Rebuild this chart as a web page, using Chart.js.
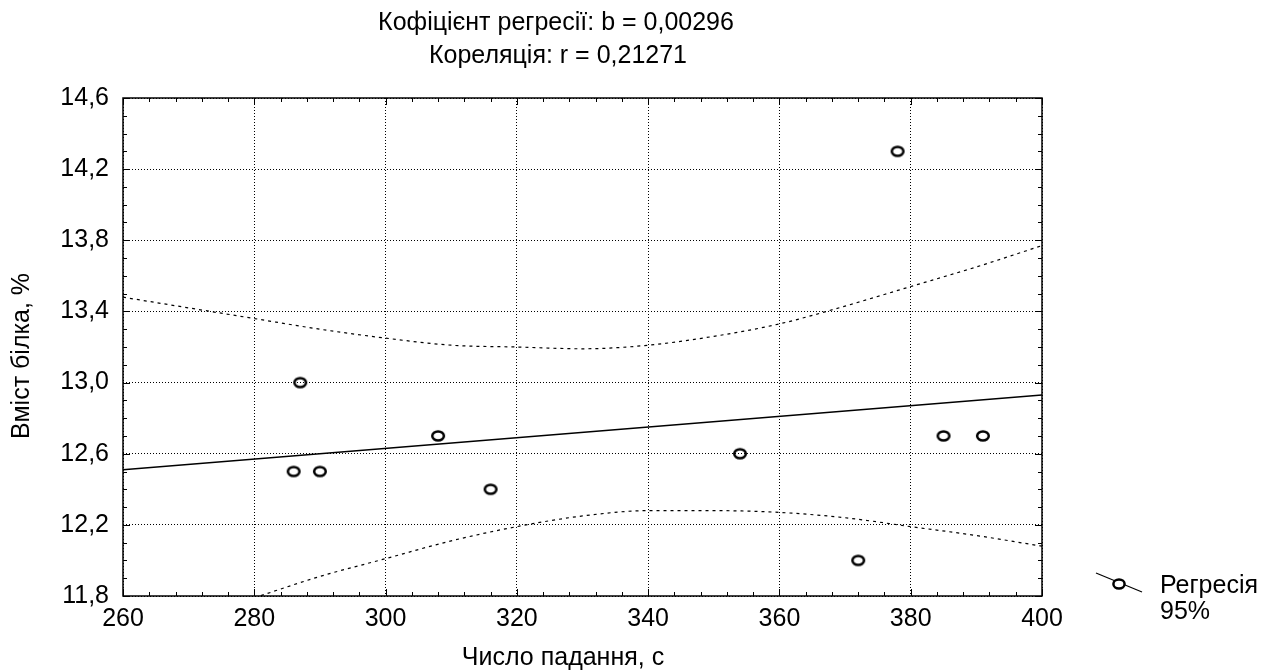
<!DOCTYPE html>
<html>
<head>
<meta charset="utf-8">
<script src="https://cdn.jsdelivr.net/npm/chart.js@4.4.1/dist/chart.umd.min.js"></script>
<style>
  html, body { margin: 0; padding: 0; background: #fff; }
  #wrap { width: 1265px; height: 670px; }
</style>
</head>
<body>
<div id="wrap"><canvas id="chart"></canvas></div>
<script>
const titleLines = ['Кофіцієнт регресії: b = 0,00296', 'Кореляція: r = 0,21271'];
const xAxisTitle = 'Число падання, с';
const yAxisTitle = 'Вміст білка, %';
const legendLines = ['Регресія', '95%'];

// observations
const fallingNumber = [286, 287, 290, 308, 316, 354, 372, 378, 385, 391];
const proteinContent = [12.5, 13.0, 12.5, 12.7, 12.4, 12.6, 12.0, 14.3, 12.7, 12.7];

// fitted line, read at both ends of the axis
const fitX = [260, 400];
const fitY = [12.51, 12.93];

// 95% band, every 10 units
const upperX = [260, 270, 280, 290, 300, 310, 320, 330, 340, 350, 360, 370, 380, 390, 400];
const upperY = [13.48, 13.42, 13.36, 13.30, 13.25, 13.21, 13.20, 13.19, 13.21, 13.26, 13.33, 13.43, 13.54, 13.65, 13.77];
const lowerX = [280, 290, 300, 310, 320, 330, 340, 350, 360, 370, 380, 390, 400];
const lowerY = [11.79, 11.91, 12.01, 12.11, 12.19, 12.25, 12.28, 12.28, 12.27, 12.24, 12.19, 12.14, 12.08];

const xTicks = { min: 260, max: 400, step: 20, minor: 4 };
const yTicks = { min: 11.8, max: 14.6, step: 0.4, minor: 0.1 };

const FONT = '"Liberation Sans", Arial, sans-serif';
const FONT_SIZE = 25;

function toPoints(xs, ys) {
    return xs.map((x, i) => ({ x: x, y: ys[i] }));
}

function makeRing() {
    const c = document.createElement('canvas');
    c.width = 18;
    c.height = 16;
    const g = c.getContext('2d');
    g.strokeStyle = '#000';
    g.lineWidth = 2.5;
    g.beginPath();
    g.ellipse(9, 8, 5.8, 4.6, 0, 0, Math.PI * 2);
    g.stroke();
    return c;
}

const ring = makeRing();

// frame, inward ticks on every side, texts and the legend
const decorPlugin = {
    id: 'decor',
    afterDatasetsDraw(chart) {
        const { ctx, chartArea: a, scales: { x, y } } = chart;
        ctx.save();
        ctx.strokeStyle = '#000';
        ctx.lineWidth = 1;
        ctx.beginPath();
        const nx = Math.round((xTicks.max - xTicks.min) / xTicks.minor);
        for (let k = 0; k <= nx; k++) {
            const px = Math.round(x.getPixelForValue(xTicks.min + k * xTicks.minor)) + 0.5;
            const len = (k * xTicks.minor) % xTicks.step === 0 ? 7 : 4;
            ctx.moveTo(px, a.bottom); ctx.lineTo(px, a.bottom - len);
            ctx.moveTo(px, a.top); ctx.lineTo(px, a.top + len);
        }
        const ny = Math.round((yTicks.max - yTicks.min) / yTicks.minor);
        for (let k = 0; k <= ny; k++) {
            const py = Math.round(y.getPixelForValue(yTicks.min + k * yTicks.minor)) + 0.5;
            const len = k % 4 === 0 ? 7 : 4;
            ctx.moveTo(a.left, py); ctx.lineTo(a.left + len, py);
            ctx.moveTo(a.right, py); ctx.lineTo(a.right - len, py);
        }
        ctx.stroke();
        ctx.lineWidth = 1.5;
        ctx.strokeRect(a.left, a.top, a.right - a.left, a.bottom - a.top);
        ctx.restore();
    },
    afterDraw(chart) {
        const { ctx } = chart;
        ctx.save();
        ctx.fillStyle = '#000';
        ctx.font = FONT_SIZE + 'px ' + FONT;
        ctx.textBaseline = 'middle';
        ctx.textAlign = 'center';
        ctx.fillText(titleLines[0], 556, 23);
        ctx.fillText(titleLines[1], 558, 56);
        ctx.fillText(xAxisTitle, 563, 658);
        ctx.save();
        ctx.translate(22, 356);
        ctx.rotate(-Math.PI / 2);
        ctx.fillText(yAxisTitle, 0, 0);
        ctx.restore();

        // legend
        ctx.strokeStyle = '#000';
        ctx.lineWidth = 1.2;
        ctx.beginPath();
        ctx.moveTo(1096, 573);
        ctx.lineTo(1142, 592);
        ctx.stroke();
        ctx.fillStyle = '#fff';
        ctx.lineWidth = 2.5;
        ctx.beginPath();
        ctx.ellipse(1119, 584, 5.6, 4.5, 0, 0, Math.PI * 2);
        ctx.fill();
        ctx.stroke();
        ctx.fillStyle = '#000';
        ctx.textAlign = 'left';
        ctx.fillText(legendLines[0], 1160, 586);
        ctx.fillText(legendLines[1], 1160, 612);
        ctx.restore();
    }
};

function createChart() {
    const chartElement = document.getElementById('chart').getContext('2d');

    new Chart(chartElement, {
        type: 'scatter',
        data: {
            datasets: [
                {
                    label: 'Регресія',
                    data: toPoints(fallingNumber, proteinContent),
                    pointStyle: ring,
                    showLine: false,
                },
                {
                    label: 'fit',
                    data: toPoints(fitX, fitY),
                    showLine: true,
                    borderColor: '#000',
                    borderWidth: 1.5,
                    pointRadius: 0,
                },
                {
                    label: '95% upper',
                    data: toPoints(upperX, upperY),
                    showLine: true,
                    borderColor: '#000',
                    borderWidth: 1.2,
                    borderDash: [3, 4],
                    cubicInterpolationMode: 'monotone',
                    pointRadius: 0,
                },
                {
                    label: '95% lower',
                    data: toPoints(lowerX, lowerY),
                    showLine: true,
                    borderColor: '#000',
                    borderWidth: 1.2,
                    borderDash: [3, 4],
                    cubicInterpolationMode: 'monotone',
                    pointRadius: 0,
                },
            ],
        },
        options: {
            responsive: true,
            maintainAspectRatio: false,
            animation: false,
            events: [],
            layout: {
                padding: { top: 98, right: 223, bottom: 0, left: 0 },
            },
            plugins: {
                legend: { display: false },
                tooltip: { enabled: false },
                title: { display: false },
            },
            scales: {
                x: {
                    type: 'linear',
                    min: xTicks.min,
                    max: xTicks.max,
                    afterFit: scale => { scale.height = 74; },
                    ticks: {
                        stepSize: xTicks.step,
                        color: '#000',
                        padding: 8,
                        maxRotation: 0,
                        font: { family: FONT, size: FONT_SIZE },
                    },
                    grid: { color: '#000', lineWidth: 1, drawTicks: false },
                    border: { display: false, dash: [1, 2] },
                },
                y: {
                    type: 'linear',
                    min: yTicks.min,
                    max: yTicks.max,
                    afterFit: scale => { scale.width = 123; },
                    ticks: {
                        stepSize: yTicks.step,
                        color: '#000',
                        padding: 14,
                        font: { family: FONT, size: FONT_SIZE },
                        callback: value => value.toFixed(1).replace('.', ','),
                    },
                    grid: { color: '#000', lineWidth: 1, drawTicks: false },
                    border: { display: false, dash: [1, 2] },
                },
            },
        },
        plugins: [decorPlugin],
    });
}

createChart();
</script>
</body>
</html>
